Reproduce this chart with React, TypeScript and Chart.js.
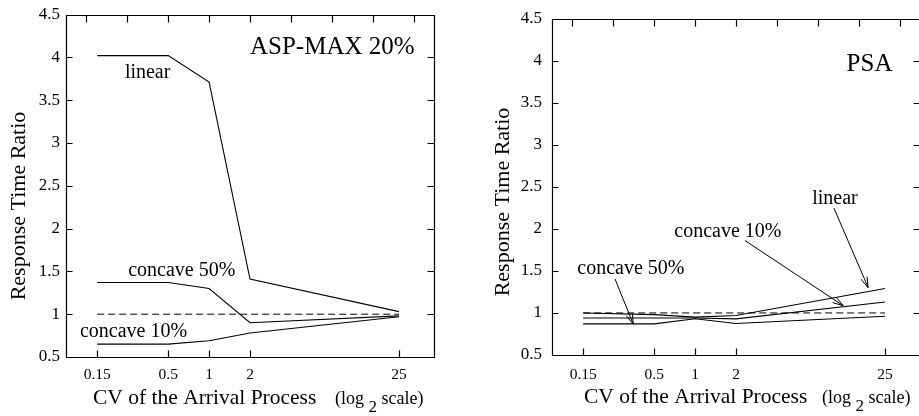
import React, { useEffect, useRef } from "react";
import { Chart, registerables } from "chart.js";

Chart.register(...registerables);

// ---- data ----
const cvValues = [0.15, 0.5, 1, 2, 25];
const cvTickLabels = ["0.15", "0.5", "1", "2", "25"];
const topTickLog2 = [-3, -2, -1, 0, 1, 2, 3, 4, 5];

const aspLinear = [4.02, 4.02, 3.71, 1.41, 1.03];
const aspConcave50 = [1.37, 1.37, 1.3, 0.9, 0.98];
const aspConcave10 = [0.65, 0.65, 0.69, 0.78, 0.97];

const psaLinear = [1.0, 0.98, 0.95, 0.97, 1.29];
const psaConcave10 = [0.94, 0.94, 0.94, 0.93, 1.13];
const psaConcave50 = [0.87, 0.87, 0.93, 0.875, 0.96];

const referenceCV = [0.15, 25];
const referenceRatio = [1, 1];

const FONT = '"Liberation Serif", "Times New Roman", serif';

type Label = { text: string; x: number; y: number; size: number };
type Arrow = { x1: number; y1: number; x2: number; y2: number };
type PanelCfg = {
  left: number;
  canvasWidth: number;
  padTop: number;
  padRight: number;
  yAxisWidth: number;
  xAxisHeight: number;
  yTickPad: number;
  xTickPad: number;
  series: number[][];
  labels: Label[];
  arrows: Arrow[];
  yTitleDx: number;
  yTitleCy: number;
  xMainDx: number;
  xParenDx: number;
  xTitleBase: number;
};

const leftPanel: PanelCfg = {
  left: 0,
  canvasWidth: 460,
  padTop: 10,
  padRight: 26,
  yAxisWidth: 66,
  xAxisHeight: 59,
  yTickPad: 6,
  xTickPad: 9,
  series: [aspLinear, aspConcave50, aspConcave10],
  labels: [
    { text: "ASP-MAX 20%", x: 1.0, y: 4.04, size: 25 },
    { text: "linear", x: -2.06, y: 3.76, size: 20 },
    { text: "concave 50%", x: -1.98, y: 1.445, size: 20 },
    { text: "concave 10%", x: -3.16, y: 0.731, size: 20 },
  ],
  arrows: [],
  yTitleDx: -47,
  yTitleCy: 206,
  xMainDx: 27,
  xParenDx: 269,
  xTitleBase: 404,
};

const rightPanel: PanelCfg = {
  left: 460,
  canvasWidth: 470,
  padTop: 9,
  padRight: 10,
  yAxisWidth: 92,
  xAxisHeight: 61,
  yTickPad: 10,
  xTickPad: 11,
  series: [psaLinear, psaConcave10, psaConcave50],
  labels: [
    { text: "PSA", x: 3.705, y: 3.872, size: 25 },
    { text: "linear", x: 2.864, y: 2.3, size: 20 },
    { text: "concave 10%", x: -0.51, y: 1.907, size: 20 },
    { text: "concave 50%", x: -2.881, y: 1.463, size: 20 },
  ],
  arrows: [
    { x1: 3.395, y1: 2.246, x2: 4.233, y2: 1.301 },
    { x1: 1.219, y1: 1.861, x2: 3.622, y2: 1.086 },
    { x1: -1.96, y1: 1.405, x2: -1.512, y2: 0.866 },
  ],
  yTitleDx: -49,
  yTitleCy: 202,
  xMainDx: 32,
  xParenDx: 270,
  xTitleBase: 403,
};

function makeDecor(p: PanelCfg) {
  return {
    id: "decor",
    afterDraw(chart: any) {
      const { ctx, chartArea: a, scales } = chart;
      const xs = scales.x;
      const ys = scales.y;
      ctx.save();
      ctx.strokeStyle = "#000";
      ctx.fillStyle = "#000";
      ctx.lineWidth = 1.2;
      ctx.setLineDash([]);
      const L = Math.round(a.left) + 0.5;
      const R = Math.round(a.right) + 0.5;
      const T = Math.round(a.top) + 0.5;
      const B = Math.round(a.bottom) + 0.5;
      ctx.beginPath();
      ctx.rect(L, T, R - L, B - T);
      // y ticks left/right (inward)
      for (const t of ys.ticks) {
        const y = Math.round(ys.getPixelForValue(t.value)) + 0.5;
        ctx.moveTo(L, y);
        ctx.lineTo(L + 6, y);
        ctx.moveTo(R, y);
        ctx.lineTo(R - 7, y);
      }
      // bottom ticks at data CVs
      for (const t of xs.ticks) {
        const x = Math.round(xs.getPixelForValue(t.value)) + 0.5;
        ctx.moveTo(x, B);
        ctx.lineTo(x, B - 7);
      }
      // top ticks at integer log2
      for (const v of topTickLog2) {
        const x = Math.round(xs.getPixelForValue(v)) + 0.5;
        ctx.moveTo(x, T);
        ctx.lineTo(x, T + 7);
      }
      ctx.stroke();

      // annotations
      ctx.lineWidth = 1;
      ctx.textAlign = "left";
      ctx.textBaseline = "alphabetic";
      for (const lb of p.labels) {
        ctx.font = `${lb.size}px ${FONT}`;
        ctx.fillText(lb.text, xs.getPixelForValue(lb.x), ys.getPixelForValue(lb.y));
      }
      // arrows
      for (const ar of p.arrows) {
        const x1 = xs.getPixelForValue(ar.x1);
        const y1 = ys.getPixelForValue(ar.y1);
        const x2 = xs.getPixelForValue(ar.x2);
        const y2 = ys.getPixelForValue(ar.y2);
        const ang = Math.atan2(y2 - y1, x2 - x1);
        const hl = 11;
        const th = 0.3;
        ctx.beginPath();
        ctx.moveTo(x1, y1);
        ctx.lineTo(x2, y2);
        ctx.moveTo(x2 - hl * Math.cos(ang - th), y2 - hl * Math.sin(ang - th));
        ctx.lineTo(x2, y2);
        ctx.lineTo(x2 - hl * Math.cos(ang + th), y2 - hl * Math.sin(ang + th));
        ctx.stroke();
      }

      // y title
      ctx.save();
      ctx.translate(a.left + p.yTitleDx, p.yTitleCy);
      ctx.rotate(-Math.PI / 2);
      ctx.textAlign = "center";
      ctx.textBaseline = "middle";
      ctx.font = `22px ${FONT}`;
      ctx.fillText("Response Time Ratio", 0, 0);
      ctx.restore();

      // x title
      ctx.textAlign = "left";
      ctx.textBaseline = "alphabetic";
      ctx.font = `21.5px ${FONT}`;
      ctx.fillText("CV of the Arrival Process", a.left + p.xMainDx, p.xTitleBase);
      ctx.font = `18px ${FONT}`;
      let x = a.left + p.xParenDx;
      ctx.fillText("(log", x, p.xTitleBase);
      x += ctx.measureText("(log ").width;
      ctx.font = `17px ${FONT}`;
      ctx.fillText("2", x, p.xTitleBase + 8);
      x += ctx.measureText("2").width;
      ctx.font = `18px ${FONT}`;
      ctx.fillText(" scale)", x, p.xTitleBase);
      ctx.restore();
    },
  };
}

function Panel({ cfg }: { cfg: PanelCfg }) {
  const ref = useRef<HTMLCanvasElement>(null);
  useEffect(() => {
    const lineDs = (vals: number[]) => ({
      data: cvValues.map((c, i) => ({ x: Math.log2(c), y: vals[i] })),
      borderColor: "#000",
      borderWidth: 1.1,
      pointRadius: 0,
      tension: 0,
      fill: false,
    });
    const refDs = {
      data: referenceCV.map((c, i) => ({ x: Math.log2(c), y: referenceRatio[i] })),
      borderColor: "#000",
      borderWidth: 1,
      borderDash: [7, 4],
      pointRadius: 0,
      fill: false,
    };
    const chart = new Chart(ref.current as HTMLCanvasElement, {
      type: "line",
      data: { datasets: [refDs, ...cfg.series.map(lineDs)] as any },
      options: {
        animation: false,
        responsive: false,
        devicePixelRatio: 1,
        layout: { padding: { top: cfg.padTop, right: cfg.padRight, left: 0, bottom: 0 } },
        plugins: { legend: { display: false }, tooltip: { enabled: false } },
        scales: {
          x: {
            type: "linear",
            min: -3.5,
            max: 5.5,
            grid: { display: false, drawTicks: false },
            border: { display: false },
            afterBuildTicks: (s: any) => {
              s.ticks = cvValues.map((v) => ({ value: Math.log2(v) }));
            },
            afterFit: (s: any) => {
              s.height = cfg.xAxisHeight;
            },
            ticks: {
              autoSkip: false,
              maxRotation: 0,
              padding: cfg.xTickPad,
              color: "#000",
              font: { family: FONT, size: 15.5 },
              callback: (v: any) => {
                const i = cvValues.findIndex((c) => Math.abs(Math.log2(c) - Number(v)) < 1e-6);
                return i >= 0 ? cvTickLabels[i] : "";
              },
            },
          },
          y: {
            type: "linear",
            min: 0.5,
            max: 4.5,
            grid: { display: false, drawTicks: false },
            border: { display: false },
            afterFit: (s: any) => {
              s.width = cfg.yAxisWidth;
            },
            ticks: {
              stepSize: 0.5,
              padding: cfg.yTickPad,
              color: "#000",
              font: { family: FONT, size: 17, lineHeight: 1 },
              callback: (v: any) => String(v),
            },
          },
        },
      } as any,
      plugins: [makeDecor(cfg)],
    });
    return () => chart.destroy();
  }, [cfg]);
  return (
    <canvas
      ref={ref}
      width={cfg.canvasWidth}
      height={416}
      style={{ position: "absolute", left: cfg.left, top: 0, width: cfg.canvasWidth, height: 416 }}
    />
  );
}

export default function App() {
  return (
    <div
      style={{
        position: "fixed",
        left: 0,
        top: 0,
        width: 919,
        height: 416,
        overflow: "hidden",
        background: "#fff",
      }}
    >
      <Panel cfg={leftPanel} />
      <Panel cfg={rightPanel} />
    </div>
  );
}
